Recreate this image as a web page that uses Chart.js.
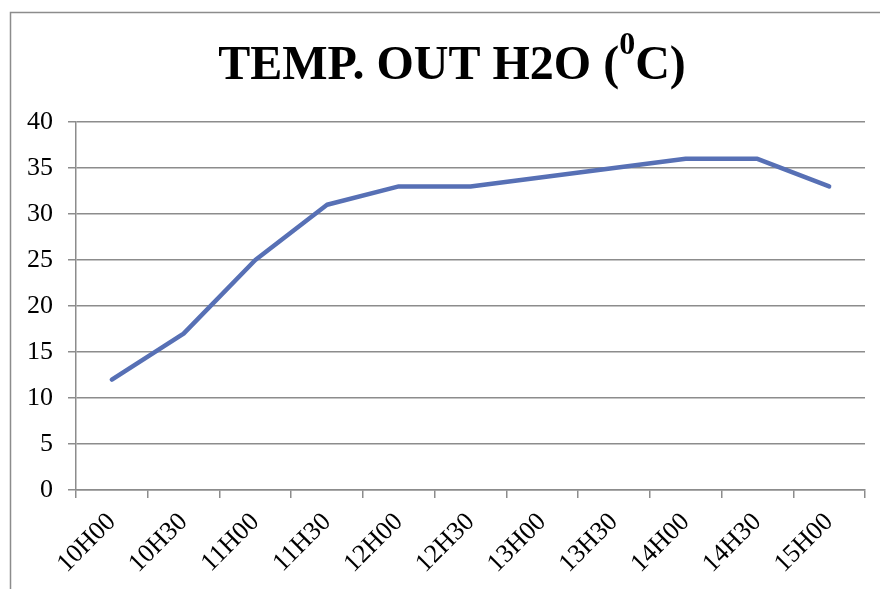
<!DOCTYPE html>
<html>
<head>
<meta charset="utf-8">
<script src="https://cdn.jsdelivr.net/npm/chart.js@4.4.1/dist/chart.umd.min.js"></script>
<style>
  html, body { margin: 0; padding: 0; background: #fff; }
  canvas { display: block; }
</style>
</head>
<body>
<canvas id="tempChart" width="880" height="589"></canvas>
<script>
// heures de mesure
const labels = ['10H00', '10H30', '11H00', '11H30', '12H00', '12H30', '13H00', '13H30', '14H00', '14H30', '15H00'];
// température de sortie de l'eau (°C)
const tempOut = [12, 17, 25, 31, 33, 33, 34, 35, 36, 36, 33];

const FONT = "'Liberation Serif', 'Times New Roman', serif";
const GRID = '#8c8c8c';

// cadre + titre avec exposant
const frameTitlePlugin = {
  id: 'frameTitle',
  beforeDraw(chart) {
    const c = chart.ctx;
    c.save();
    c.strokeStyle = GRID;
    c.lineWidth = 1.5;
    c.beginPath();
    c.moveTo(10.5, chart.height);
    c.lineTo(10.5, 12.5);
    c.lineTo(chart.width, 12.5);
    c.stroke();

    const main1 = 'TEMP. OUT H2O (';
    const sup = '0';
    const main2 = 'C)';
    c.fillStyle = '#000';
    c.textBaseline = 'alphabetic';
    c.textAlign = 'left';
    c.font = 'bold 48px ' + FONT;
    const w1 = c.measureText(main1).width;
    const w3 = c.measureText(main2).width;
    c.font = 'bold 32px ' + FONT;
    const w2 = c.measureText(sup).width;
    const total = w1 + w2 + w3;
    let x = 452 - total / 2;
    const base = 79;
    c.font = 'bold 48px ' + FONT;
    c.fillText(main1, x, base);
    x += w1;
    c.font = 'bold 32px ' + FONT;
    c.fillText(sup, x, base - 25);
    x += w2;
    c.font = 'bold 48px ' + FONT;
    c.fillText(main2, x, base);
    c.restore();
  }
};

new Chart(document.getElementById('tempChart'), {
  type: 'line',
  data: {
    labels: labels,
    datasets: [{
      data: tempOut,
      borderColor: '#5770b5',
      borderWidth: 4.5,
      borderCapStyle: 'round',
      borderJoinStyle: 'round',
      pointRadius: 0,
      fill: false,
      tension: 0
    }]
  },
  options: {
    responsive: false,
    animation: false,
    layout: { padding: { top: 122, right: 15, left: 0, bottom: 0 } },
    plugins: {
      legend: { display: false },
      title: { display: false },
      tooltip: { enabled: false }
    },
    scales: {
      x: {
        offset: true,
        grid: {
          offset: true,
          drawOnChartArea: false,
          color: GRID,
          lineWidth: 1.5,
          tickLength: 8
        },
        border: { color: GRID, width: 1.5 },
        ticks: {
          color: '#000',
          font: { family: FONT, size: 26 },
          minRotation: 45,
          maxRotation: 45,
          autoSkip: false,
          padding: 9
        },
        afterFit(scale) { scale.height = 99; }
      },
      y: {
        min: 0,
        max: 40,
        ticks: {
          stepSize: 5,
          color: '#000',
          font: { family: FONT, size: 26 },
          padding: 15
        },
        grid: {
          color: GRID,
          lineWidth: 1.5,
          tickLength: 8
        },
        border: { color: GRID, width: 1.5 },
        afterFit(scale) { scale.width = 76; }
      }
    }
  },
  plugins: [frameTitlePlugin]
});
</script>
</body>
</html>
